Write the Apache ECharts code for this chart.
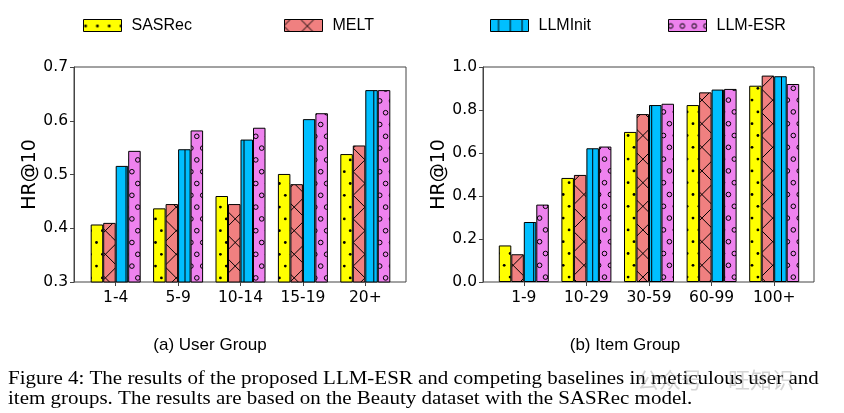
<!DOCTYPE html>
<html><head><meta charset="utf-8">
<script src="https://cdn.jsdelivr.net/npm/echarts@6/dist/echarts.min.js"></script>
<style>html,body{margin:0;padding:0;background:#fff}#c{width:844px;height:413px}</style>
</head><body><div id="c"></div><script>
// ---- data ----
const seriesNames = ['SASRec', 'MELT', 'LLMInit', 'LLM-ESR'];
const userGroups = ['1-4', '5-9', '10-14', '15-19', '20+'];
const itemGroups = ['1-9', '10-29', '30-59', '60-99', '100+'];
const userSASRec  = [0.407, 0.437, 0.460, 0.501, 0.538];
const userMELT    = [0.410, 0.445, 0.445, 0.482, 0.554];
const userLLMInit = [0.516, 0.547, 0.565, 0.603, 0.657];
const userLLMESR  = [0.544, 0.582, 0.587, 0.614, 0.657];
const itemSASRec  = [0.170, 0.484, 0.698, 0.823, 0.913];
const itemMELT    = [0.129, 0.498, 0.781, 0.882, 0.960];
const itemLLMInit = [0.279, 0.622, 0.823, 0.895, 0.957];
const itemLLMESR  = [0.360, 0.630, 0.829, 0.898, 0.921];
const panelTitles = ['(a) User Group', '(b) Item Group'];
const yName = 'HR@10';
const captionLines = [
  'Figure 4: The results of the proposed LLM-ESR and competing baselines in meticulous user and',
  'item groups. The results are based on the Beauty dataset with the SASRec model.'
];

// ---- hatch patterns ----
const P = 11.8, T = 118;
function makeTile(kind, base, ox, oy) {
  const c = document.createElement('canvas'); c.width = T; c.height = T;
  const g = c.getContext('2d');
  g.fillStyle = base; g.fillRect(0, 0, T, T);
  g.strokeStyle = '#000'; g.fillStyle = '#000'; g.lineWidth = 1;
  const mx = ((ox % P) + P) % P, my = ((oy % (2 * P)) + 2 * P) % (2 * P);
  if (kind === 'dots' || kind === 'circles') {
    for (let r = -2; r <= 11; r++) {
      const y = my + r * P;
      const off = (r % 2 !== 0) ? P / 2 : 0;
      for (let k = -2; k <= 11; k++) {
        const x = mx + off + k * P;
        g.beginPath();
        if (kind === 'dots') { g.arc(x, y, 1.4, 0, 2 * Math.PI); g.fill(); }
        else { g.arc(x, y, 2.3, 0, 2 * Math.PI); g.stroke(); }
      }
    }
  } else if (kind === 'vlines') {
    for (let k = -1; k <= 11; k++) {
      const x = mx + k * P; g.beginPath(); g.moveTo(x, 0); g.lineTo(x, T); g.stroke();
    }
  } else if (kind === 'cross') {
    const Q = 2 * P;
    const vx = mx + 3;
    const c1 = (((vx - my) % Q) + Q) % Q, c2 = (((vx + my) % Q) + Q) % Q;
    for (let k = -6; k <= 11; k++) {
      const a = c1 + k * Q;
      g.beginPath(); g.moveTo(a, 0); g.lineTo(a + T, T); g.stroke();
      const b = c2 + k * Q;
      g.beginPath(); g.moveTo(b, 0); g.lineTo(b - T, T); g.stroke();
    }
  }
  return { image: c, repeat: 'repeat' };
}
const kinds = ['dots', 'cross', 'vlines', 'circles'];
const baseColors = ['#ffff00', '#f08080', '#00bfff', '#ee82ee'];
const leftTiles = kinds.map((k, i) => makeTile(k, baseColors[i], 8.0, 18.3));
const rightTiles = kinds.map((k, i) => makeTile(k, baseColors[i], 2.7, 17.5));

const userData = [userSASRec, userMELT, userLLMInit, userLLMESR];
const itemData = [itemSASRec, itemMELT, itemLLMInit, itemLLMESR];

const tickFont = { fontFamily: 'DejaVu Sans', fontSize: 15.5, color: '#000' };
const frameColor = '#444';

function frameY(gridIndex, min, max, interval) {
  return {
    gridIndex, type: 'value', min, max, interval,
    axisLine: { show: true, lineStyle: { color: frameColor, width: 1 } },
    axisTick: { show: true, length: 4, lineStyle: { color: frameColor } },
    splitLine: { show: false },
    axisLabel: Object.assign({ margin: 6, formatter: v => v.toFixed(1) }, tickFont),
    name: yName, nameLocation: 'middle', nameGap: 31, nameRotate: 90,
    nameTextStyle: { fontFamily: 'DejaVu Sans', fontSize: 19, color: '#000' }
  };
}
function hiddenY(gridIndex, min, max) {
  return { gridIndex, type: 'value', min, max, show: false, splitLine: { show: false } };
}
function catX(gridIndex, cats) {
  return {
    gridIndex, type: 'category', data: cats,
    axisLine: { show: false },
    axisTick: { show: true, alignWithLabel: true, length: 4, lineStyle: { color: frameColor } },
    axisLabel: Object.assign({ margin: 8, interval: 0 }, tickFont)
  };
}
function hiddenX(gridIndex) { return { gridIndex, type: 'value', show: false, min: 0, max: 1 }; }

const series = [];
seriesNames.forEach((n, i) => {
  series.push({
    type: 'bar', name: n, data: userData[i], xAxisIndex: 1, yAxisIndex: 1,
    barWidth: 12.5, barGap: '0%',
    itemStyle: { color: leftTiles[i], borderColor: '#000', borderWidth: 1 },
    emphasis: { disabled: true }
  });
});
seriesNames.forEach((n, i) => {
  series.push({
    type: 'bar', name: n, data: itemData[i], xAxisIndex: 3, yAxisIndex: 3,
    barWidth: 12.5, barGap: '0%',
    itemStyle: { color: rightTiles[i], borderColor: '#000', borderWidth: 1 },
    emphasis: { disabled: true }
  });
});

const legendLeft = [83, 284, 490, 668];
const legends = seriesNames.map((n, i) => ({
  data: [n], left: legendLeft[i], top: 17, padding: 0, icon: 'rect',
  itemWidth: 38, itemHeight: 12, itemGap: 0,
  selectedMode: false,
  itemStyle: { borderColor: '#000', borderWidth: 1 },
  textStyle: { fontFamily: 'Liberation Sans', fontSize: 16, color: '#000', padding: [0, 0, 0, 5], lineHeight: 17 }
}));

const capStyle = { font: '18px "Liberation Serif"', fill: '#000', align: 'left', verticalAlign: 'middle' };
const chart = echarts.init(document.getElementById('c'), null, { renderer: 'canvas' });
chart.setOption({
  animation: false,
  backgroundColor: '#fff',
  legend: legends,
  grid: [
    { left: 74, top: 67, width: 332, height: 215, show: true, borderColor: frameColor, borderWidth: 1, backgroundColor: 'transparent', containLabel: false },
    { left: 84.5, top: 67, width: 312, height: 215, containLabel: false },
    { left: 483, top: 67, width: 331, height: 215, show: true, borderColor: frameColor, borderWidth: 1, backgroundColor: 'transparent', containLabel: false },
    { left: 492.5, top: 67, width: 313, height: 215, containLabel: false }
  ],
  xAxis: [hiddenX(0), catX(1, userGroups), hiddenX(2), catX(3, itemGroups)],
  yAxis: [frameY(0, 0.3, 0.7, 0.1), hiddenY(1, 0.3, 0.7), frameY(2, 0, 1.0, 0.2), hiddenY(3, 0, 1.0)],
  series,
  graphic: [
    { type: 'text', x: 210, y: 345, style: { text: panelTitles[0], font: '17px "Liberation Sans"', fill: '#000', align: 'center', verticalAlign: 'middle' } },
    { type: 'text', x: 625, y: 345, style: { text: panelTitles[1], font: '17px "Liberation Sans"', fill: '#000', align: 'center', verticalAlign: 'middle' } },
    { type: 'text', x: 8, y: 379, scaleX: 1.165, style: Object.assign({ text: captionLines[0] }, capStyle) },
    { type: 'text', x: 8, y: 399, scaleX: 1.165, style: Object.assign({ text: captionLines[1] }, capStyle) },
    { type: 'text', x: 637, y: 380, style: { text: '公众号', font: '22px "Noto Sans CJK SC"', fill: 'rgba(150,150,150,0.4)', align: 'left', verticalAlign: 'middle' } },
    { type: 'text', x: 728, y: 380, style: { text: '旺知识', font: '22px "Noto Sans CJK SC"', fill: 'rgba(150,150,150,0.4)', align: 'left', verticalAlign: 'middle' } }
  ]
});
</script></body></html>
